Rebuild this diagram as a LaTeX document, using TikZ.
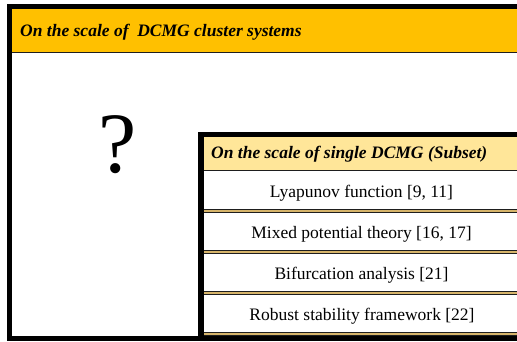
\documentclass[tikz,border=0pt]{standalone}
\usepackage{fontspec}
\setmainfont{Liberation Serif}
\definecolor{hdrorange}{RGB}{255,192,0}
\definecolor{hdrpale}{RGB}{255,230,153}
\definecolor{septan}{RGB}{214,180,106}
\definecolor{sepdark}{RGB}{30,30,30}
\tikzset{
  itemtext/.style={inner sep=0pt, anchor=base, font=\fontsize{17.5}{20}\selectfont},
  hdrtext/.style={inner sep=0pt, anchor=base west, font=\fontsize{17.5}{20}\selectfont\bfseries\itshape},
}
\begin{document}
\begin{tikzpicture}[x=1pt,y=1pt]
\useasboundingbox (0,0) rectangle (517,341);
\clip (0,0) rectangle (517,341);
\fill[white] (0,0) rectangle (517,341);
% outer frame
\fill[black] (7,0) rectangle (540,337);
\fill[white] (12,5) rectangle (540,332);
\fill[hdrorange] (12,289) rectangle (540,332);
\fill[sepdark] (12,288) rectangle (540,289.3);
\node[hdrtext] (h1) at (20,305) {On the scale of \ DCMG cluster systems};
\node[inner sep=0pt, anchor=base, font=\fontsize{86}{90}\selectfont] (q) at (118,169) {?};
% inner box
\fill[black] (198,0) rectangle (540,209);
\fill[white] (204,5) rectangle (540,204);
\fill[hdrpale] (204,171) rectangle (540,204);
\fill[sepdark] (204,170) rectangle (540,171.3);
\node[hdrtext] (h2) at (211,183) {On the scale of single DCMG (Subset)};
% separators
\foreach \yy in {128,87,46,5}{
  \fill[sepdark] (204,\yy) rectangle (540,\yy+4);
  \fill[septan] (204,\yy+1.2) rectangle (540,\yy+2.8);
}
\node[itemtext] (r1) at (361.5,144) {Lyapunov function [9, 11]};
\node[itemtext] (r2) at (361.5,103) {Mixed potential theory [16, 17]};
\node[itemtext] (r3) at (361.5,62) {Bifurcation analysis [21]};
\node[itemtext] (r4) at (362,21) {Robust stability framework [22]};
\end{tikzpicture}
\end{document}
